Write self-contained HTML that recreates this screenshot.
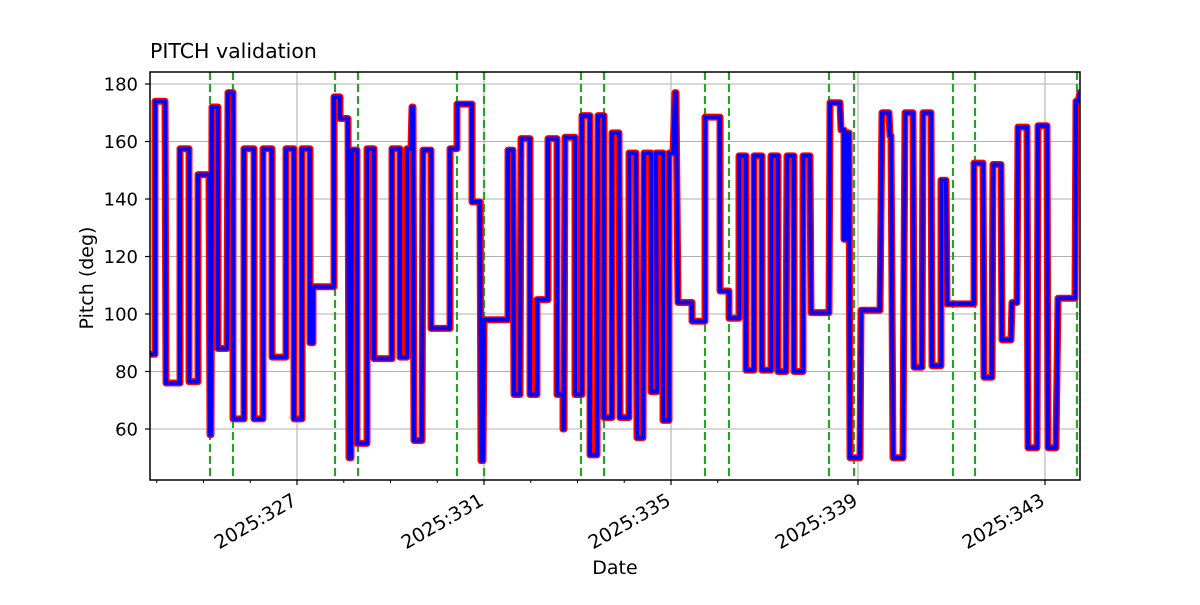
<!DOCTYPE html>
<html><head><meta charset="utf-8"><style>
html,body{margin:0;padding:0;background:#fff;}
svg text{font-family:"DejaVu Sans","Liberation Sans",sans-serif;fill:#000;}
</style></head><body>
<svg id="s" width="1200" height="600" xmlns="http://www.w3.org/2000/svg">
<defs><clipPath id="c"><rect x="150" y="72" width="930" height="408"/></clipPath></defs>
<g id="grid" stroke="#b0b0b0" stroke-width="1.1"></g>
<g id="green" stroke="#2ca02c" stroke-width="2.2" stroke-dasharray="8,4"></g>
<g clip-path="url(#c)">
<path id="red" fill="none" stroke="#ff0000" stroke-width="7" stroke-linejoin="round"/>
<path id="blue" fill="none" stroke="#0000ff" stroke-width="4" stroke-linejoin="round"/>
</g>
<rect x="150" y="72" width="930" height="408" fill="none" stroke="#000" stroke-width="1.5"/>
<g id="ticks" stroke="#000"></g>
<g id="labels" font-size="18"></g>
<g id="xl" font-size="19"></g>
<text x="150" y="58" font-size="20.5">PITCH validation</text>
<text x="615" y="574" font-size="19" text-anchor="middle">Date</text>
<text transform="translate(93,278) rotate(-90)" font-size="19" text-anchor="middle">Pitch (deg)</text>
</svg>
<script>
var NS="http://www.w3.org/2000/svg";
function el(p,t,a,txt){var e=document.createElementNS(NS,t);for(var k in a)e.setAttribute(k,a[k]);if(txt)e.textContent=txt;document.getElementById(p).appendChild(e);return e;}
function Y(v){return 429-(v-60)*2.875;}
for(var v=60;v<=180;v+=20){var y=Y(v);el('grid','line',{x1:150,x2:1080,y1:y,y2:y});el('ticks','line',{x1:145,x2:150,y1:y,y2:y,'stroke-width':1.2});el('labels','text',{x:138,y:y+6.5,'text-anchor':'end'},''+v);}
var maj=[297,484,671,858,1045],lab=["2025:327","2025:331","2025:335","2025:339","2025:343"];
maj.forEach(function(x,i){el('grid','line',{x1:x,x2:x,y1:72,y2:480});el('ticks','line',{x1:x,x2:x,y1:480,y2:485,'stroke-width':1.2});
el('xl','text',{transform:'translate('+(x-6)+',492) rotate(-30)','text-anchor':'end',y:14},lab[i]);});
for(var d=-3;d<=9;d++){var x=297+d*46.75; if(x>150&&x<1080&&maj.indexOf(Math.round(x))<0) el('ticks','line',{x1:x,x2:x,y1:480,y2:483,'stroke-width':1});}
[210,233,335,358,457,484,581,604,705,729,829,854,953,975,1077].forEach(function(x){el('green','line',{x1:x,x2:x,y1:72,y2:480});});
var L=[[148,155,86],[155,165,174],[166,180,76],[180,189,157.5],[189,198,76.5],[198,209,148.5],[210,211,58],[212,218,172],[218,227,88],[228,233,177],[233,244,63.5],[244,254,157.5],[254,263,63.5],[263,272,157.5],[272,286,85],[286,294,157.5],[294,302,63.5],[302,310,157.5],[310,313,90],[313,334,109.5],[334,340,175.5],[340,348,168],[349,351,50],[352,357,157],[357,367,55],[367,374,157.5],[374,392,84.5],[392,400,157.5],[400,407,85],[407,411,157.5],[412,413,172],[414,422,56],[423,431,157],[431,450,95],[450,457,157.5],[457,472,173],[472,480,139],[481,483,49],[484,508,98],[508,513,157],[514,520,72],[521,530,161],[530,537,72],[537,548,105],[548,557,161],[557,563,72],[563,564,60],[565,575,161.5],[575,582,72],[582,590,169],[590,597,51],[598,604,169],[604,612,64],[612,619,163],[620,629,64],[629,636,156],[637,643,57],[644,651,156],[651,657,73],[656,663,156],[663,669,63],[669,673,156],[675,676,177],[678,692,104],[692,705,97.5],[705,720,168.5],[720,729,108],[729,739,98.5],[739,746,155],[746,754,80.5],[754,762,155],[762,771,80.5],[771,778,155],[778,786,80],[787,794,155],[794,803,80],[803,810,155],[811,829,100.5],[830,840,173.5],[841,844,164],[844,846,126],[846,849,163],[850,860,50],[861,880,101.3],[882,889,170],[890,891,162],[893,903,50],[904,904,115],[905,913,170],[914,922,81.5],[923,931,170],[932,941,82],[941,946,146.5],[947,974,103.5],[974,983,152.5],[984,992,78],[993,1001,152],[1002,1011,91],[1012,1017,104],[1018,1027,165],[1028,1037,53.5],[1038,1047,165.5],[1048,1056,53.5],[1058,1075,105.5],[1076,1078,174],[1080,1086,177]];
var d="";L.forEach(function(s,i){var y=Y(s[2]).toFixed(1);d+=(i?"L":"M")+s[0]+" "+y+"L"+s[1]+" "+y;});
document.getElementById('red').setAttribute('d',d);document.getElementById('blue').setAttribute('d',d);
</script>
</body></html>
